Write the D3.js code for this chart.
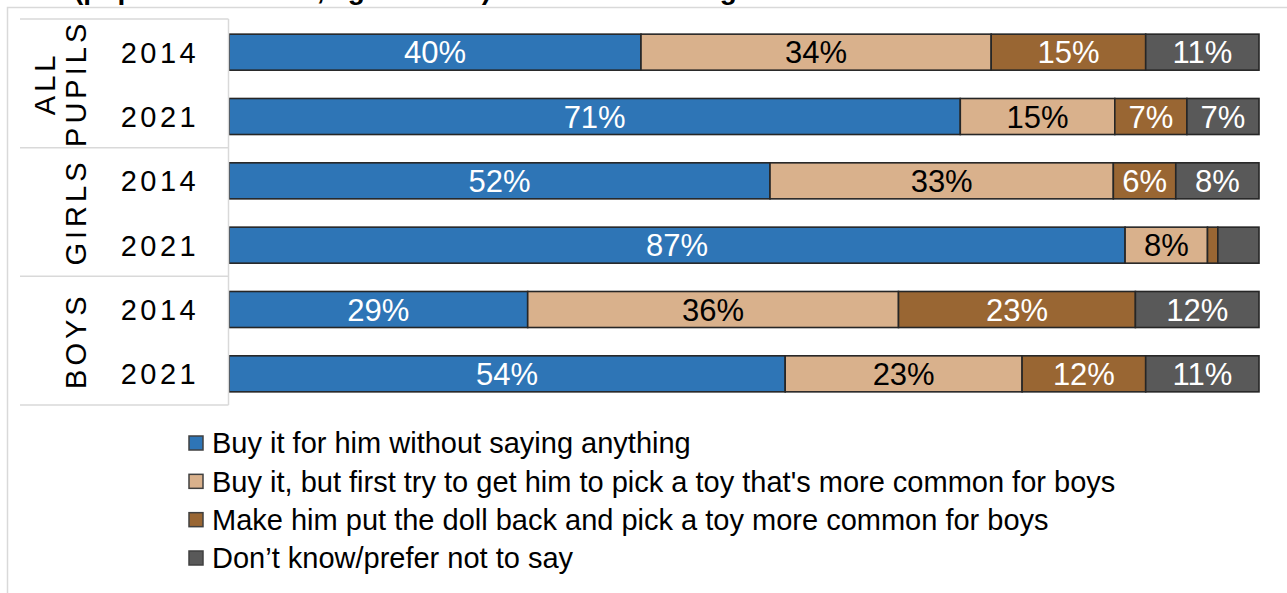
<!DOCTYPE html>
<html>
<head>
<meta charset="utf-8">
<script src="https://cdn.jsdelivr.net/npm/d3@7"></script>
<style>
  html, body { margin: 0; padding: 0; background: #fff; }
  svg { display: block; font-family: Arial, "Liberation Sans", sans-serif; }
</style>
</head>
<body>
<svg id="chart" width="1287" height="593"></svg>
<script>
// Response categories (stack order, left to right)
const responses = [
  "Buy it for him without saying anything",
  "Buy it, but first try to get him to pick a toy that's more common for boys",
  "Make him put the doll back and pick a toy more common for boys",
  "Don\u2019t know/prefer not to say"
];
const colours = ["#2E75B6", "#D9B18C", "#996633", "#595959"];
const labelColours = ["#ffffff", "#000000", "#ffffff", "#ffffff"];

// Row groups and years
const groups = [["ALL", "PUPILS"], ["GIRLS"], ["BOYS"]];
const years = ["2014", "2021"];

// Percentages per row, in the order of `responses`
const allPupils2014 = [40, 34, 15, 11];
const allPupils2021 = [71, 15, 7, 7];
const girls2014 = [52, 33, 6, 8];
const girls2021 = [87, 8, 1, 4];
const boys2014 = [29, 36, 23, 12];
const boys2021 = [54, 23, 12, 11];

const rows = [
  { key: "all-2014", group: 0, year: years[0], values: allPupils2014 },
  { key: "all-2021", group: 0, year: years[1], values: allPupils2021 },
  { key: "girls-2014", group: 1, year: years[0], values: girls2014 },
  { key: "girls-2021", group: 1, year: years[1], values: girls2021 },
  { key: "boys-2014", group: 2, year: years[0], values: boys2014 },
  { key: "boys-2021", group: 2, year: years[1], values: boys2021 }
];

const svg = d3.select("#chart");
const grid = "#d9d9d9";

// Heading (sits mostly above the visible area)
svg.append("text")
  .attr("x", 74).attr("y", -1)
  .attr("text-anchor", "end")
  .attr("font-size", 28).attr("font-weight", "bold")
  .text("Figure 6: What pupils would do if a boy wanted a doll ");
svg.append("text")
  .attr("x", 74).attr("y", -1)
  .attr("font-size", 28).attr("font-weight", "bold")
  .text("(pupils in S1 to S4, aged 11\u201316) across time and gender");

// Chart area border
svg.append("path")
  .attr("d", "M7.5,593 V7.5 H1287")
  .attr("fill", "none").attr("stroke", grid).attr("stroke-width", 1.5);

// Scales
const x = d3.scaleLinear().domain([0, 1]).range([229, 1259]);
const y = d3.scaleBand().domain(rows.map(r => r.key)).range([20, 406]).paddingInner(0.44).paddingOuter(0.22);

// Stacked (normalised to 100%) data
const table = rows.map(r => {
  const o = { key: r.key };
  responses.forEach((k, i) => o[k] = r.values[i]);
  return o;
});
const series = d3.stack().keys(responses).offset(d3.stackOffsetExpand)(table);

const layer = svg.append("g").selectAll("g")
  .data(series).join("g")
  .attr("fill", (d, i) => colours[i]);

layer.selectAll("rect")
  .data(d => d)
  .join("rect")
  .attr("x", d => x(d[0]))
  .attr("y", d => y(d.data.key))
  .attr("width", d => x(d[1]) - x(d[0]))
  .attr("height", y.bandwidth())
  .attr("stroke", "#262626").attr("stroke-width", 1.6);

// Value labels (segments under 5% stay unlabelled)
layer.each(function(s, i) {
  d3.select(this).selectAll("text")
    .data(s.filter(d => d.data[s.key] >= 5))
    .join("text")
    .attr("x", d => (x(d[0]) + x(d[1])) / 2)
    .attr("y", d => y(d.data.key) + y.bandwidth() / 2)
    .attr("dy", "0.36em")
    .attr("text-anchor", "middle")
    .attr("font-size", 31)
    .attr("fill", labelColours[i])
    .text(d => d.data[s.key] + "%");
});

// Category table on the left
const tbl = svg.append("g");
const yTop = y.range()[0] - 1, yBot = y.range()[1] - 1;
const groupEdges = [0, 2, 4, 6].map(k => yTop + (yBot - yTop) * k / 6);
groupEdges.forEach(v => {
  tbl.append("line").attr("x1", 20).attr("x2", 228.5).attr("y1", v).attr("y2", v)
    .attr("stroke", grid).attr("stroke-width", 1.5);
});
tbl.append("line").attr("x1", 228.5).attr("x2", 228.5).attr("y1", yTop).attr("y2", yBot)
  .attr("stroke", grid).attr("stroke-width", 1.5);

// Year labels
tbl.selectAll("text.year")
  .data(rows).join("text")
  .attr("class", "year")
  .attr("x", 160)
  .attr("y", d => y(d.key) + y.bandwidth() / 2)
  .attr("dy", "0.36em")
  .attr("text-anchor", "middle")
  .attr("font-size", 29)
  .attr("letter-spacing", 3.5)
  .text(d => d.year);

// Group labels, rotated
groups.forEach((lines, gi) => {
  const cy = (groupEdges[gi] + groupEdges[gi + 1]) / 2;
  const n = lines.length;
  lines.forEach((t, li) => {
    const cx = 76 - (n - 1 - li) * 31;
    tbl.append("text")
      .attr("transform", `translate(${cx},${cy}) rotate(-90)`)
      .attr("dy", "0.36em")
      .attr("text-anchor", "middle")
      .attr("font-size", 29)
      .attr("letter-spacing", 4)
      .text(t);
  });
});

// Legend
const legend = svg.append("g").attr("transform", "translate(189,0)");
const ly = d3.scalePoint().domain(responses).range([443, 558]);
const item = legend.selectAll("g").data(responses).join("g")
  .attr("transform", d => `translate(0,${ly(d)})`);
item.append("rect")
  .attr("x", 0).attr("y", -7).attr("width", 14).attr("height", 14)
  .attr("fill", (d, i) => colours[i])
  .attr("stroke", "#404040").attr("stroke-width", 1.5);
item.append("text")
  .attr("x", 23).attr("dy", "0.36em")
  .attr("font-size", 29)
  .text(d => d);
</script>
</body>
</html>
